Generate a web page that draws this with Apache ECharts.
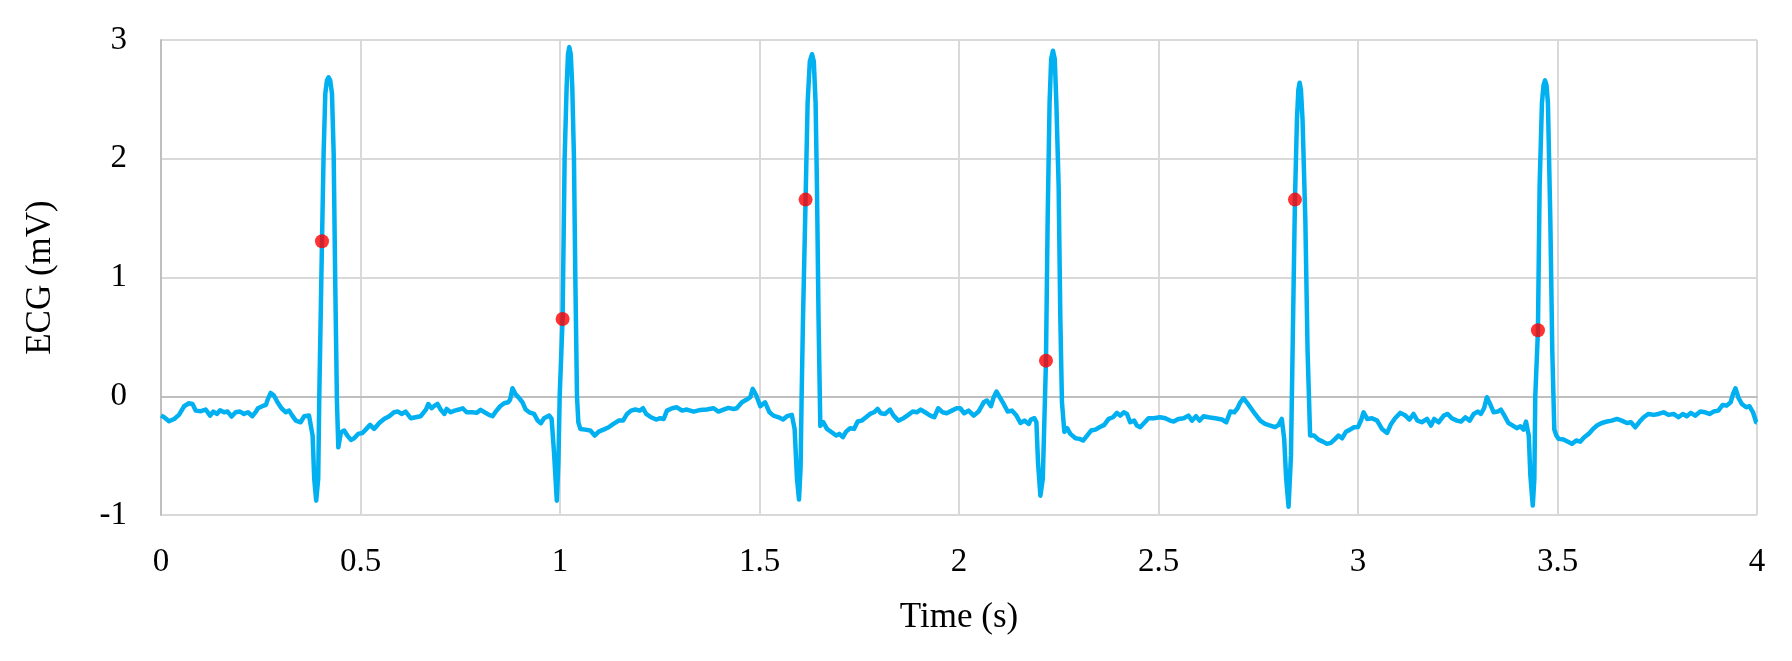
<!DOCTYPE html>
<html>
<head>
<meta charset="utf-8">
<script src="https://cdn.jsdelivr.net/npm/echarts@6/dist/echarts.min.js"></script>
<style>
html,body{margin:0;padding:0;background:#fff;}
#chart{width:1792px;height:661px;}
</style>
</head>
<body>
<div id="chart"></div>
<script>
// ECG trace: time (s) and voltage (mV)
const timeS = [
0.000,0.008,0.020,0.033,0.045,0.058,0.070,0.079,0.087,0.100,0.112,0.123,0.131,0.140,0.148,0.158,0.167,0.177,0.187,0.198,
0.208,0.218,0.229,0.238,0.243,0.254,0.263,0.268,0.275,0.283,0.292,0.302,0.313,0.321,0.329,0.338,0.350,0.359,0.371,0.375,
0.380,0.384,0.389,0.394,
0.3967,0.4035,0.4076,0.4118,0.416,0.420,0.424,0.4285,0.4327,0.4368,0.441,0.4444,
0.451,0.459,0.467,0.476,0.484,0.494,0.505,0.513,0.524,0.534,0.547,0.559,0.572,0.584,0.594,0.603,0.613,0.626,0.638,0.651,
0.664,0.670,0.678,0.686,0.693,0.701,0.710,0.716,0.726,0.736,0.747,0.756,0.766,0.781,0.791,0.801,0.811,0.822,0.831,0.839,
0.850,0.860,0.870,0.875,0.881,0.888,0.898,0.906,0.914,0.923,0.935,0.944,0.952,0.960,0.973,0.979,0.985,0.992,0.996,
0.9992,1.0065,1.0116,1.0166,1.0200,1.0233,1.0270,1.0308,1.035,1.0384,1.0426,1.046,
1.051,1.063,1.076,1.087,1.097,1.109,1.122,1.134,1.147,1.158,1.168,1.178,1.189,1.200,1.208,1.216,1.228,1.241,1.251,1.260,
1.268,1.281,1.293,1.306,1.318,1.335,1.352,1.368,1.385,1.397,1.410,1.422,1.435,1.443,1.456,1.468,1.477,1.483,1.492,1.502,
1.514,1.525,1.535,1.548,1.559,1.569,1.581,1.588,1.594,1.599,1.603,
1.6056,1.609,1.6155,1.6206,1.6261,1.6316,1.6361,1.6406,1.644,1.648,1.6524,
1.660,1.669,1.681,1.692,1.700,1.709,1.717,1.727,1.737,1.746,1.756,1.767,1.777,1.787,1.796,1.804,1.815,1.827,1.836,1.848,
1.861,1.873,1.884,1.894,1.904,1.915,1.928,1.938,1.948,1.959,1.969,1.982,1.994,2.003,2.013,2.024,2.037,2.049,2.062,2.070,
2.080,2.087,2.094,2.102,2.112,2.122,2.133,2.144,2.154,2.164,2.175,2.180,2.189,2.194,2.198,2.204,2.210,2.214,
2.218,2.2222,2.227,2.231,2.2355,2.240,2.244,2.2497,2.254,2.258,2.264,
2.271,2.279,2.292,2.302,2.311,2.321,2.331,2.342,2.352,2.364,2.375,2.386,2.396,2.404,2.413,2.421,2.429,2.439,2.446,2.454,
2.464,2.475,2.488,2.504,2.517,2.529,2.538,2.550,2.563,2.575,2.584,2.594,2.603,2.613,2.625,2.642,2.659,2.670,2.680,2.690,
2.698,2.705,2.713,2.721,2.730,2.742,2.755,2.767,2.780,2.792,2.801,2.809,2.815,2.820,2.826,2.832,
2.836,2.842,2.847,2.8505,2.8537,2.857,2.861,2.868,2.8737,2.880,
2.890,2.901,2.912,2.922,2.932,2.943,2.951,2.960,2.970,2.980,2.990,3.000,3.008,3.014,3.023,3.035,3.048,3.060,3.073,3.083,
3.093,3.106,3.119,3.129,3.139,3.149,3.160,3.173,3.183,3.191,3.202,3.215,3.225,3.235,3.248,3.258,3.269,3.280,3.290,3.300,
3.308,3.316,3.323,3.331,3.340,3.350,3.358,3.367,3.377,3.388,3.398,3.407,3.415,3.421,3.428,3.432,3.438,3.442,
3.4443,3.451,3.4552,3.461,3.465,3.4687,3.4725,3.476,3.482,3.487,3.492,3.497,
3.503,3.515,3.525,3.536,3.547,3.557,3.567,3.578,3.589,3.599,3.611,3.624,3.636,3.649,3.661,3.674,3.684,3.695,3.706,3.716,
3.728,3.741,3.753,3.766,3.778,3.791,3.803,3.814,3.824,3.834,3.845,3.858,3.870,3.881,3.891,3.903,3.914,3.924,3.934,3.940,
3.946,3.954,3.962,3.973,3.981,3.990,3.998,4.000
];
const ecgMV = [
-0.163,-0.177,-0.211,-0.191,-0.157,-0.084,-0.059,-0.065,-0.121,-0.126,-0.112,-0.163,-0.129,-0.149,-0.118,-0.135,-0.129,-0.171,-0.135,-0.129,
-0.149,-0.135,-0.168,-0.129,-0.101,-0.084,-0.073,-0.022,0.028,0.006,-0.051,-0.101,-0.135,-0.121,-0.163,-0.205,-0.219,-0.168,-0.163,-0.177,
-0.331,-0.696,-0.879,-0.696,
0.0,1.305,2.05,2.55,2.66,2.686,2.66,2.55,2.05,0.93,-0.05,-0.43,
-0.303,-0.289,-0.331,-0.368,-0.354,-0.317,-0.309,-0.281,-0.241,-0.275,-0.225,-0.191,-0.168,-0.135,-0.129,-0.149,-0.129,-0.185,-0.177,-0.168,
-0.112,-0.065,-0.101,-0.079,-0.065,-0.112,-0.149,-0.107,-0.135,-0.121,-0.112,-0.101,-0.135,-0.135,-0.140,-0.115,-0.135,-0.157,-0.168,-0.129,
-0.084,-0.059,-0.051,-0.028,0.067,0.020,-0.017,-0.051,-0.112,-0.135,-0.149,-0.205,-0.227,-0.185,-0.163,-0.191,-0.472,-0.879,-0.55,
0.0,0.651,2.0,2.6,2.88,2.94,2.88,2.6,2.0,1.0,0.0,-0.22,
-0.275,-0.281,-0.289,-0.331,-0.298,-0.281,-0.261,-0.233,-0.205,-0.205,-0.149,-0.121,-0.112,-0.121,-0.101,-0.149,-0.177,-0.196,-0.185,-0.191,
-0.121,-0.101,-0.093,-0.121,-0.112,-0.129,-0.115,-0.112,-0.101,-0.129,-0.112,-0.098,-0.107,-0.101,-0.051,-0.028,-0.008,0.062,0.006,-0.084,
-0.051,-0.135,-0.163,-0.177,-0.196,-0.168,-0.157,-0.275,-0.696,-0.87,-0.60,
0.0,0.65,1.656,2.47,2.82,2.88,2.82,2.47,1.77,0.65,-0.25,
-0.219,-0.275,-0.303,-0.331,-0.317,-0.345,-0.298,-0.269,-0.275,-0.213,-0.205,-0.177,-0.149,-0.135,-0.107,-0.143,-0.149,-0.112,-0.163,-0.205,
-0.185,-0.157,-0.129,-0.135,-0.112,-0.135,-0.163,-0.177,-0.101,-0.135,-0.143,-0.121,-0.101,-0.101,-0.143,-0.121,-0.163,-0.129,-0.051,-0.036,
-0.084,-0.008,0.039,-0.008,-0.065,-0.129,-0.121,-0.163,-0.225,-0.205,-0.233,-0.196,-0.185,-0.219,-0.556,-0.837,-0.696,-0.2,
0.30,1.49,2.47,2.84,2.91,2.84,2.47,1.77,0.65,-0.05,-0.30,
-0.269,-0.317,-0.354,-0.359,-0.373,-0.331,-0.289,-0.281,-0.261,-0.241,-0.191,-0.177,-0.140,-0.163,-0.135,-0.149,-0.219,-0.205,-0.247,-0.261,
-0.225,-0.185,-0.185,-0.177,-0.185,-0.205,-0.213,-0.191,-0.185,-0.163,-0.205,-0.168,-0.205,-0.168,-0.177,-0.185,-0.196,-0.219,-0.129,-0.135,
-0.101,-0.051,-0.017,-0.051,-0.093,-0.149,-0.205,-0.233,-0.247,-0.261,-0.241,-0.191,-0.359,-0.696,-0.93,-0.50,
0.37,1.656,2.33,2.58,2.64,2.58,2.33,1.49,0.37,-0.33,
-0.331,-0.365,-0.382,-0.401,-0.393,-0.359,-0.331,-0.354,-0.298,-0.281,-0.261,-0.26,-0.20,-0.135,-0.191,-0.185,-0.205,-0.275,-0.309,-0.233,
-0.185,-0.140,-0.163,-0.196,-0.149,-0.205,-0.219,-0.191,-0.247,-0.191,-0.219,-0.163,-0.149,-0.185,-0.205,-0.213,-0.177,-0.205,-0.149,-0.129,
-0.149,-0.101,-0.008,-0.065,-0.135,-0.129,-0.112,-0.163,-0.225,-0.247,-0.269,-0.253,-0.281,-0.213,-0.331,-0.668,-0.92,-0.696,
0.0,0.556,1.77,2.47,2.62,2.66,2.62,2.47,1.49,0.37,-0.28,-0.33,
-0.359,-0.365,-0.382,-0.401,-0.373,-0.382,-0.345,-0.317,-0.275,-0.247,-0.225,-0.213,-0.205,-0.191,-0.205,-0.225,-0.219,-0.261,-0.213,-0.177,
-0.149,-0.157,-0.149,-0.135,-0.157,-0.149,-0.177,-0.149,-0.168,-0.140,-0.163,-0.129,-0.135,-0.149,-0.129,-0.121,-0.073,-0.079,-0.051,0.020,
0.067,-0.017,-0.065,-0.093,-0.084,-0.135,-0.219,-0.22
];
// Marked points (red dots)
const dotTime = [0.4035, 1.0065, 1.6155, 2.218, 2.842, 3.451];
const dotMV = [1.305, 0.651, 1.656, 0.30, 1.656, 0.556];
// Axis settings
const xTicks = {min: 0, max: 4, interval: 0.5};
const yTicks = {min: -1, max: 3, interval: 1};
const xTitle = 'Time (s)';
const yTitle = 'ECG (mV)';

const lineData = timeS.map((t, i) => [t, ecgMV[i]]);
const dotData = dotTime.map((t, i) => [t, dotMV[i]]);

const FONT = '"Liberation Serif", "DejaVu Serif", serif';
const chart = echarts.init(document.getElementById('chart'), null, {renderer: 'canvas'});
chart.setOption({
  animation: false,
  backgroundColor: '#ffffff',
  grid: {left: 161, right: 35, top: 40, bottom: 146, containLabel: false},
  xAxis: {
    type: 'value',
    min: xTicks.min, max: xTicks.max, interval: xTicks.interval,
    name: xTitle, nameLocation: 'middle', nameGap: 85,
    nameTextStyle: {fontFamily: FONT, fontSize: 35, color: '#000'},
    axisLine: {show: true, lineStyle: {color: '#bfbfbf', width: 2}},
    axisTick: {show: false},
    axisLabel: {margin: 31, fontFamily: FONT, fontSize: 33, color: '#000'},
    splitLine: {show: true, lineStyle: {color: '#d9d9d9', width: 2}}
  },
  yAxis: {
    type: 'value',
    min: yTicks.min, max: yTicks.max, interval: yTicks.interval,
    name: yTitle, nameLocation: 'middle', nameGap: 103, nameRotate: 90,
    nameTextStyle: {fontFamily: FONT, fontSize: 35, color: '#000'},
    axisLine: {show: true, lineStyle: {color: '#bfbfbf', width: 2}},
    axisTick: {show: false},
    axisLabel: {margin: 34, fontFamily: FONT, fontSize: 33, color: '#000'},
    splitLine: {show: true, lineStyle: {color: '#d9d9d9', width: 2}}
  },
  series: [
    {
      type: 'line', data: lineData, showSymbol: false, symbol: 'none',
      lineStyle: {color: '#00b0f0', width: 4.5, join: 'round'},
      z: 2
    },
    {
      type: 'scatter', data: dotData, symbol: 'circle', symbolSize: 14,
      itemStyle: {color: '#ff0000'},
      z: 3
    }
  ]
});
</script>
</body>
</html>
